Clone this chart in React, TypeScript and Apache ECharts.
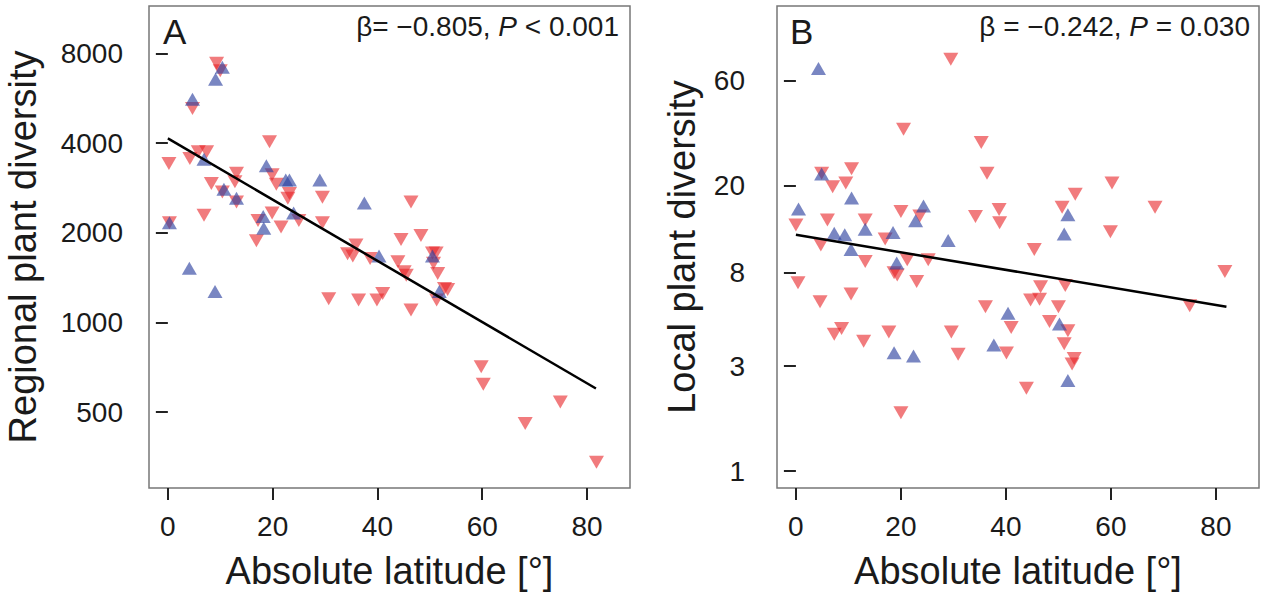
import React, { useEffect, useRef } from 'react';
import * as echarts from 'echarts';

const FONT = '"Liberation Sans", Arial, Helvetica, sans-serif';

// Tick values
const xTicks = [0, 20, 40, 60, 80];
const aTicks = [500, 1000, 2000, 4000, 8000];
const bTicks = [1, 3, 8, 20, 60];

// Panel A: regional plant diversity vs absolute latitude
const aRed: number[][] = [
  [9.3, 7420], [10, 7000], [4.7, 5230], [19.4, 4040], [0.2, 3420], [4.2, 3550], [5.8, 3740], [7.4, 3740],
  [8.3, 2930], [13.1, 3170], [12.8, 2970], [10.4, 2740], [13.1, 2540], [6.9, 2290], [0.3, 2160],
  [19.9, 3130], [20.7, 2910], [23.2, 2710], [22.9, 2610], [29.5, 2630], [25, 2200], [29.5, 2160],
  [17.2, 2200], [19.9, 2330], [21.6, 2090], [16.9, 1880], [34.3, 1700], [35.9, 1820], [35.3, 1670],
  [38.6, 1640], [30.7, 1200], [36.4, 1190], [39.9, 1190], [41, 1250], [46.4, 2540], [44.5, 1900],
  [48.3, 1960], [50.5, 1710], [51.2, 1710], [50.7, 1580], [43.9, 1600], [45.1, 1480], [45.5, 1440],
  [51.5, 1460], [52.8, 1300], [53.4, 1290], [51.3, 1190], [46.4, 1100], [59.8, 710], [60.2, 620],
  [74.9, 541], [68.2, 458], [81.8, 339],
];
const aBlue: number[][] = [
  [10.4, 7190], [9.1, 6550], [4.7, 5620], [6.9, 3530], [10.7, 2800], [13.1, 2610], [0.3, 2160],
  [18.8, 3360], [22.5, 3010], [23.2, 3010], [29, 3010], [37.5, 2520], [24, 2330], [18.2, 2270],
  [18.3, 2070], [4.1, 1520], [9.0, 1270], [40.3, 1670], [50.5, 1670], [51.8, 1270],
];
const aFit: number[][] = [[0, 4150], [81.7, 600]];

// Panel B: local plant diversity vs absolute latitude
const bRed: number[][] = [
  [29.5, 75], [20.5, 36], [35.3, 31.3], [36.4, 22.7], [4.9, 22.7], [10.6, 23.8], [7.0, 19.7], [9.5, 20.5],
  [0, 13.2], [6, 13.9], [13.2, 13.9], [4.75, 10.7], [17, 11.4], [20, 15.2], [23.6, 14.5], [34.2, 14.4],
  [38.7, 15.5], [38.8, 13.5], [60.2, 20.5], [53.2, 18.2], [50.7, 15.9], [68.4, 15.9], [59.9, 12.3],
  [45.4, 10.2], [13.2, 9.0], [18.7, 8.0], [19.3, 7.8], [21.2, 9.15], [25.2, 9.15], [23, 7.3], [0.4, 7.2],
  [4.6, 5.9], [10.5, 6.4], [7.3, 4.2], [8.7, 4.45], [12.9, 3.9], [17.7, 4.3], [20, 1.84], [29.6, 4.3],
  [30.9, 3.4], [36.1, 5.6], [41, 4.5], [40.1, 3.45], [81.7, 8.1], [46.6, 6.9], [51.3, 7.0], [44.7, 6.0],
  [46.4, 6.05], [50, 5.6], [75, 5.65], [48.3, 4.8], [51.8, 4.35], [51.1, 3.8], [53, 3.25], [52.6, 3.07],
  [43.9, 2.38],
];
const bBlue: number[][] = [
  [4.3, 68], [4.9, 22.5], [10.6, 17.5], [0.5, 15.6], [13.2, 12.6], [7.3, 12.1], [9.3, 11.9], [18.5, 12.2],
  [24.3, 16.1], [22.8, 13.8], [29, 11.2], [51.8, 14.7], [51.1, 12.0], [10.5, 10.2], [19.2, 8.85],
  [18.7, 3.46], [22.4, 3.34], [40.4, 5.23], [37.7, 3.75], [50.2, 4.67], [51.8, 2.58],
];
const bFit: number[][] = [[0, 11.9], [82, 5.6]];

const RED = 'rgba(232,32,36,0.74)';
const BLUE = 'rgba(45,65,160,0.8)';
const INK = '#1a1a1a';

const plain = (v: number) => String(Math.round(v * 1000) / 1000);

function xAxisCfg(gridIndex: number) {
  return {
    type: 'value',
    gridIndex,
    min: -3.6,
    max: 88.2,
    axisLine: { show: false },
    axisTick: { show: true, customValues: xTicks, length: 12, lineStyle: { color: '#222', width: 2 } },
    axisLabel: { customValues: xTicks, fontSize: 28, color: INK, margin: 24, fontFamily: FONT, formatter: plain },
    splitLine: { show: false },
    name: 'Absolute latitude [°]',
    nameLocation: 'middle',
    nameGap: 64,
    nameTextStyle: { fontSize: 38, color: INK, fontFamily: FONT },
  };
}

function scatter(data: number[][], idx: number, color: string, down: boolean) {
  return {
    type: 'scatter',
    xAxisIndex: idx,
    yAxisIndex: idx,
    data,
    symbol: 'triangle',
    symbolRotate: down ? 180 : 0,
    symbolSize: [15, 13],
    itemStyle: { color },
    silent: true,
  };
}

function fit(data: number[][], idx: number) {
  return {
    type: 'line',
    xAxisIndex: idx,
    yAxisIndex: idx,
    data,
    symbol: 'none',
    lineStyle: { color: '#000', width: 2.5 },
    z: 5,
    silent: true,
  };
}

export default function App() {
  const ref = useRef<HTMLDivElement>(null);
  useEffect(() => {
    if (!ref.current) return;
    const chart = echarts.init(ref.current, undefined, { renderer: 'svg' });
    chart.setOption({
      animation: false,
      grid: [
        { left: 149, top: 6, width: 481, height: 482, show: true, borderColor: '#777', borderWidth: 1.5, backgroundColor: '#fff', outerBoundsMode: 'none' },
        { left: 777, top: 6, width: 482, height: 482, show: true, borderColor: '#777', borderWidth: 1.5, backgroundColor: '#fff', outerBoundsMode: 'none' },
      ],
      xAxis: [xAxisCfg(0), xAxisCfg(1)],
      yAxis: [
        {
          type: 'log',
          logBase: 2,
          gridIndex: 0,
          min: 278,
          max: 11550,
          axisLine: { show: false },
          axisTick: { show: true, customValues: aTicks, length: 12, lineStyle: { color: '#222', width: 2 } },
          axisLabel: { customValues: aTicks, fontSize: 28, color: INK, margin: 26, fontFamily: FONT, formatter: plain },
          splitLine: { show: false },
          name: 'Regional plant diversity',
          nameLocation: 'middle',
          nameGap: 107,
          nameRotate: 90,
          nameTextStyle: { fontSize: 38, color: INK, fontFamily: FONT },
        },
        {
          type: 'log',
          logBase: 10,
          gridIndex: 1,
          min: 0.837,
          max: 131,
          axisLine: { show: false },
          axisTick: { show: true, customValues: bTicks, length: 12, lineStyle: { color: '#222', width: 2 } },
          axisLabel: { customValues: bTicks, fontSize: 28, color: INK, margin: 32, fontFamily: FONT, formatter: plain },
          splitLine: { show: false },
          name: 'Local plant diversity',
          nameLocation: 'middle',
          nameGap: 76,
          nameRotate: 90,
          nameTextStyle: { fontSize: 38, color: INK, fontFamily: FONT },
        },
      ],
      series: [
        scatter(aRed, 0, RED, true),
        scatter(aBlue, 0, BLUE, false),
        fit(aFit, 0),
        scatter(bRed, 1, RED, true),
        scatter(bBlue, 1, BLUE, false),
        fit(bFit, 1),
      ],
      graphic: [
        { type: 'text', left: 163, top: 14, z: 10, style: { text: 'A', fontSize: 35, fill: INK, fontFamily: FONT } },
        { type: 'text', left: 790, top: 14, z: 10, style: { text: 'B', fontSize: 35, fill: INK, fontFamily: FONT } },
        {
          type: 'text', right: 1265 - 619, top: 12, z: 10,
          style: {
            text: '{n|β= −0.805, }{i|P}{n| < 0.001}',
            fill: INK,
            fontFamily: FONT,
            rich: {
              n: { fontSize: 28, fontFamily: FONT, fill: INK },
              i: { fontSize: 28, fontFamily: FONT, fontStyle: 'italic', fill: INK },
            },
          },
        },
        {
          type: 'text', right: 1265 - 1250, top: 12, z: 10,
          style: {
            text: '{n|β = −0.242, }{i|P}{n| = 0.030}',
            fill: INK,
            fontFamily: FONT,
            rich: {
              n: { fontSize: 28, fontFamily: FONT, fill: INK },
              i: { fontSize: 28, fontFamily: FONT, fontStyle: 'italic', fill: INK },
            },
          },
        },
      ],
    });
    return () => chart.dispose();
  }, []);
  return (
    <div
      ref={ref}
      style={{ position: 'fixed', left: 0, top: 0, width: 1265, height: 598, background: '#fff' }}
    />
  );
}
